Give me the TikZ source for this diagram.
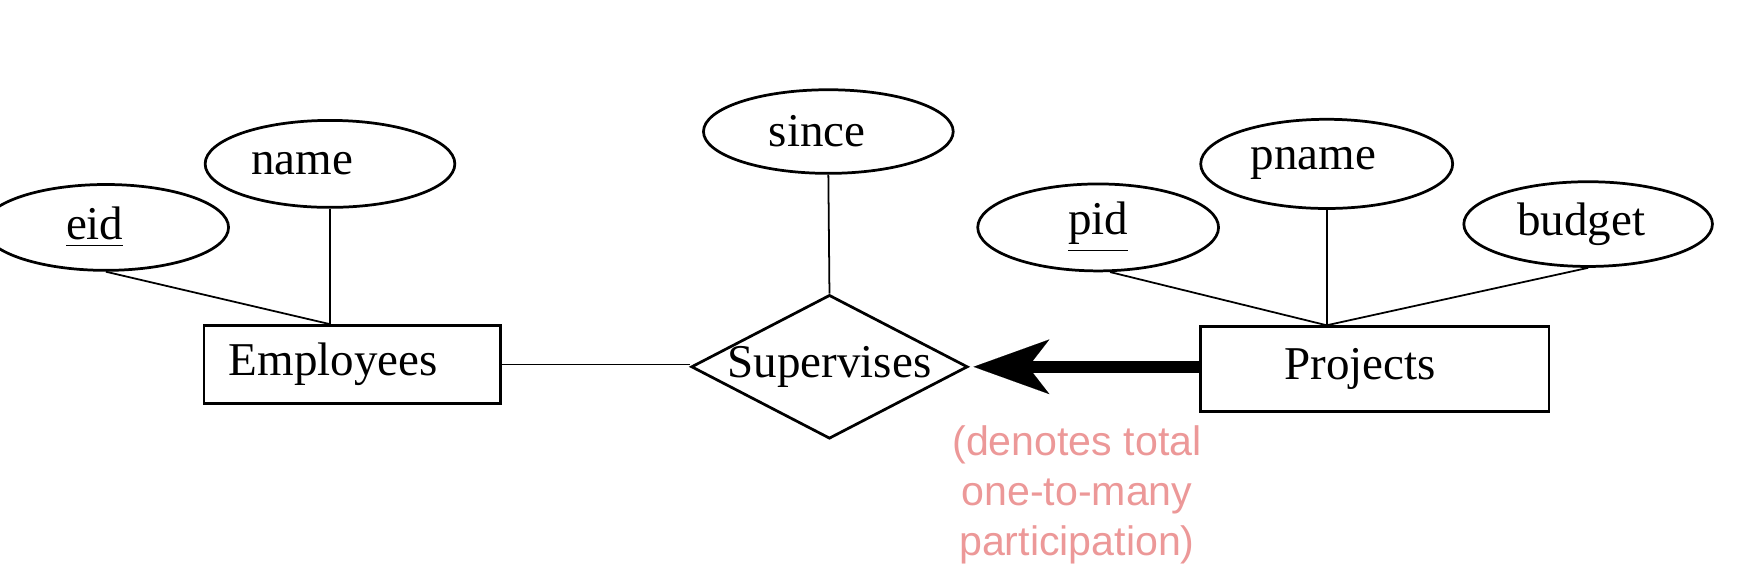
\documentclass[tikz,border=0pt]{standalone}
\usepackage{fontspec}
\setmainfont{Liberation Serif}
\newfontfamily\notefont{Liberation Sans}
\usepackage{tikz}
\usepackage{xcolor}
\usetikzlibrary{shapes.geometric, arrows.meta, positioning}
\definecolor{notepink}{RGB}{236, 152, 152}

\begin{document}
\begin{tikzpicture}[
    entity/.style={rectangle, draw, line width=0.7pt, inner sep=0pt, font=\fontsize{12}{14}\selectfont},
    attr/.style={ellipse, draw, line width=0.7pt, inner sep=0pt,
                 minimum width=2.24cm, minimum height=0.78cm, font=\fontsize{12}{14}\selectfont},
    rel/.style={diamond, draw, line width=0.7pt, inner sep=0pt, minimum width=2.48cm, minimum height=1.29cm},
    link/.style={line width=0.45pt},
    total/.style={line width=3pt, -{Stealth[length=0.68cm, width=0.49cm, inset=0.19cm, line width=0.01pt]}, shorten >=0.04cm}]
    \useasboundingbox (0,0) rectangle (15.67,-5.122);

    % Entities
    \node[entity, minimum width=2.66cm, minimum height=0.70cm] (emp) at (3.16,-3.27) {Employees\hspace*{0.34cm}};
    \node[entity, minimum width=3.13cm, minimum height=0.76cm] (proj) at (12.33,-3.31) {Projects\hspace*{0.26cm}};

    % Relationship
    \node[rel, label={[font=\fontsize{12}{14}\selectfont]center:Supervises}] (sup) at (7.44,-3.29) {};

    % Attributes
    \node[attr, minimum width=2.2cm, minimum height=0.77cm] (eid) at (0.95,-2.04) {\underline{eid}\hspace*{0.2cm}};
    \node[attr] (name) at (2.96,-1.47) {name\hspace*{0.5cm}};
    \node[attr, minimum height=0.75cm] (since) at (7.43,-1.18) {since\hspace*{0.2cm}};
    \node[attr, minimum width=2.16cm] (pid) at (9.85,-2.04) {\underline{pid}};
    \node[attr, minimum width=2.26cm, minimum height=0.8cm] (pname) at (11.90,-1.47) {pname\hspace*{0.24cm}};
    \node[attr, minimum width=2.23cm, minimum height=0.76cm] (budget) at (14.245,-2.01) {budget\hspace*{0.12cm}};

    % Connectors
    \draw[link] (eid.south) -- (name.south |- emp.north);
    \draw[link] (name.south) -- (name.south |- emp.north);
    \draw[link] (since.south) -- (sup.north);
    \draw[link] (emp.east) -- (emp.east -| sup.west);
    \draw[link] (pid.-75) -- (pname.south |- proj.north);
    \draw[link] (pname.south) -- (pname.south |- proj.north);
    \draw[link] (budget.south) -- (pname.south |- proj.north);

    % Total participation
    \draw[total] (sup.east -| proj.west) -- (sup.east);
    \node[font=\notefont\fontsize{10.5}{12.8}\selectfont, text=notepink, align=center, inner sep=0pt] (note) at (9.66,-4.44)
        {(denotes total\\one-to-many\\participation)};
\end{tikzpicture}
\end{document}
